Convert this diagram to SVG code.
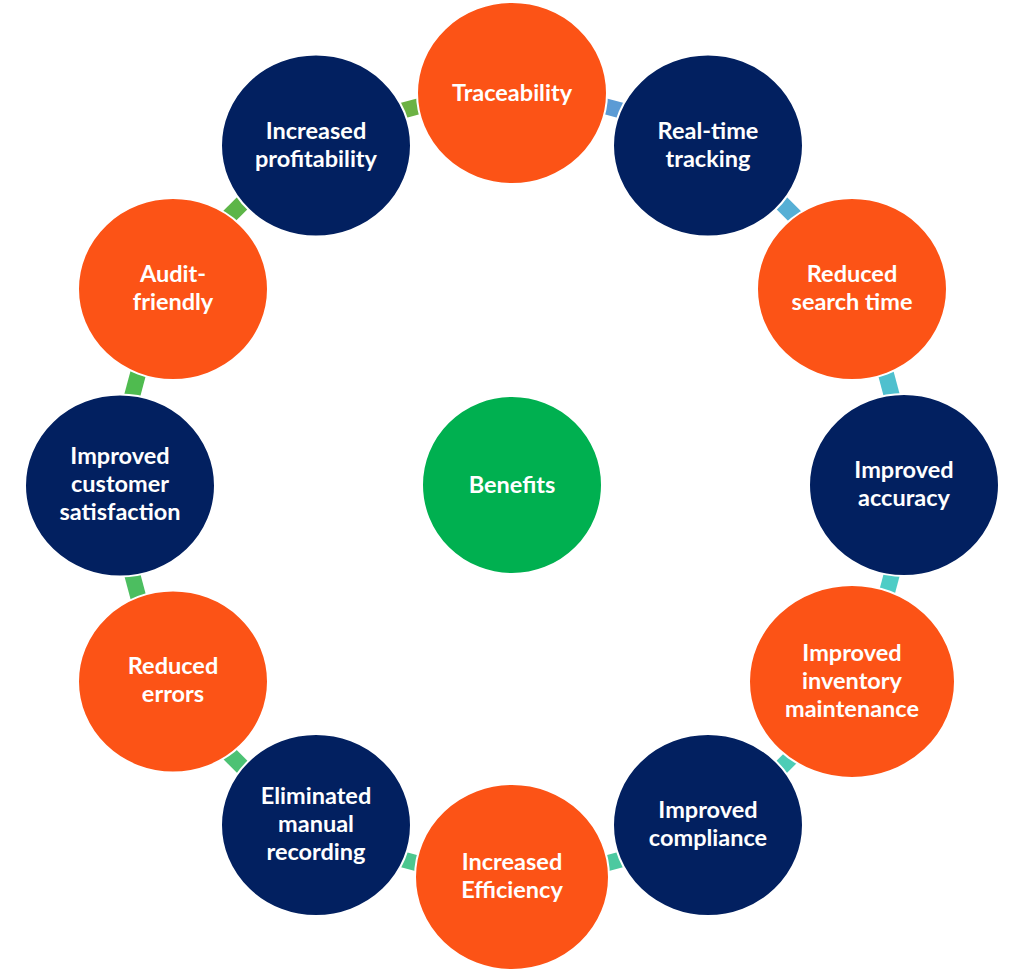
<svg xmlns="http://www.w3.org/2000/svg" width="1024" height="971" viewBox="0 0 1024 971">
<style>
.o{fill:#FC5316;stroke:#fff;stroke-width:2}
.n{fill:#022060;stroke:#fff;stroke-width:2}
.g{fill:#00B050;stroke:#fff;stroke-width:2}
text{font-family:"Lato","Open Sans",sans-serif;font-weight:700;font-size:23.5px;fill:#fff;text-anchor:middle}
</style>
<defs>
<rect id="seg" x="-20" y="-8" width="40" height="16"/>
</defs>
<rect width="1024" height="971" fill="#fff"/>
<g id="connectors">
<use href="#seg" fill="#5B9BD5" transform="translate(612.9,108.3) rotate(15)"/>
<use href="#seg" fill="#56AFD5" transform="translate(787.8,209.2) rotate(45)"/>
<use href="#seg" fill="#4FC0CE" transform="translate(888.7,384.1) rotate(75)"/>
<use href="#seg" fill="#4ECDC6" transform="translate(888.7,585.9) rotate(105)"/>
<use href="#seg" fill="#4DCDB6" transform="translate(787.8,760.8) rotate(135)"/>
<use href="#seg" fill="#4CC9A0" transform="translate(612.9,861.7) rotate(165)"/>
<use href="#seg" fill="#4CC78F" transform="translate(411.1,861.7) rotate(195)"/>
<use href="#seg" fill="#4CC274" transform="translate(236.2,760.8) rotate(225)"/>
<use href="#seg" fill="#4CBE60" transform="translate(135.3,585.9) rotate(255)"/>
<use href="#seg" fill="#4FBB4F" transform="translate(135.3,384.1) rotate(-75)"/>
<use href="#seg" fill="#5DB548" transform="translate(236.2,209.2) rotate(-45)"/>
<use href="#seg" fill="#6CB244" transform="translate(411.1,108.3) rotate(-15)"/>
</g>
<g id="traceability"><ellipse class="o" cx="512" cy="93" rx="95" ry="91"/><text x="512" y="101">Traceability</text></g>
<g id="real-time"><ellipse class="n" cx="708" cy="145.5" rx="95" ry="91"/><text x="708" y="138.5">Real-time</text><text x="708" y="166.5">tracking</text></g>
<g id="search"><ellipse class="o" cx="852" cy="289" rx="95" ry="91"/><text x="852" y="282">Reduced</text><text x="852" y="310">search time</text></g>
<g id="accuracy"><ellipse class="n" cx="904" cy="485" rx="95" ry="91"/><text x="904" y="478">Improved</text><text x="904" y="506">accuracy</text></g>
<g id="inventory"><ellipse class="o" cx="852" cy="681.5" rx="103" ry="96.5"/><text x="852" y="660.5">Improved</text><text x="852" y="688.5">inventory</text><text x="852" y="716.5">maintenance</text></g>
<g id="compliance"><ellipse class="n" cx="708" cy="825" rx="95" ry="91"/><text x="708" y="818">Improved</text><text x="708" y="846">compliance</text></g>
<g id="efficiency"><ellipse class="o" cx="512" cy="877" rx="97" ry="93"/><text x="512" y="870">Increased</text><text x="512" y="898">Efficiency</text></g>
<g id="manual"><ellipse class="n" cx="316" cy="825" rx="95" ry="91"/><text x="316" y="803.5">Eliminated</text><text x="316" y="831.5">manual</text><text x="316" y="859.5">recording</text></g>
<g id="errors"><ellipse class="o" cx="173" cy="681.5" rx="95" ry="91"/><text x="173" y="674">Reduced</text><text x="173" y="702">errors</text></g>
<g id="customer"><ellipse class="n" cx="120" cy="485.5" rx="95" ry="91"/><text x="120" y="464">Improved</text><text x="120" y="492">customer</text><text x="120" y="520">satisfaction</text></g>
<g id="audit"><ellipse class="o" cx="173" cy="289" rx="95" ry="91"/><text x="173" y="282">Audit-</text><text x="173" y="310">friendly</text></g>
<g id="profitability"><ellipse class="n" cx="316" cy="145.5" rx="95" ry="91"/><text x="316" y="138.5">Increased</text><text x="316" y="166.5">profitability</text></g>
<g id="benefits"><ellipse class="g" cx="512" cy="485" rx="90" ry="89"/><text x="512" y="493">Benefits</text></g>
</svg>
